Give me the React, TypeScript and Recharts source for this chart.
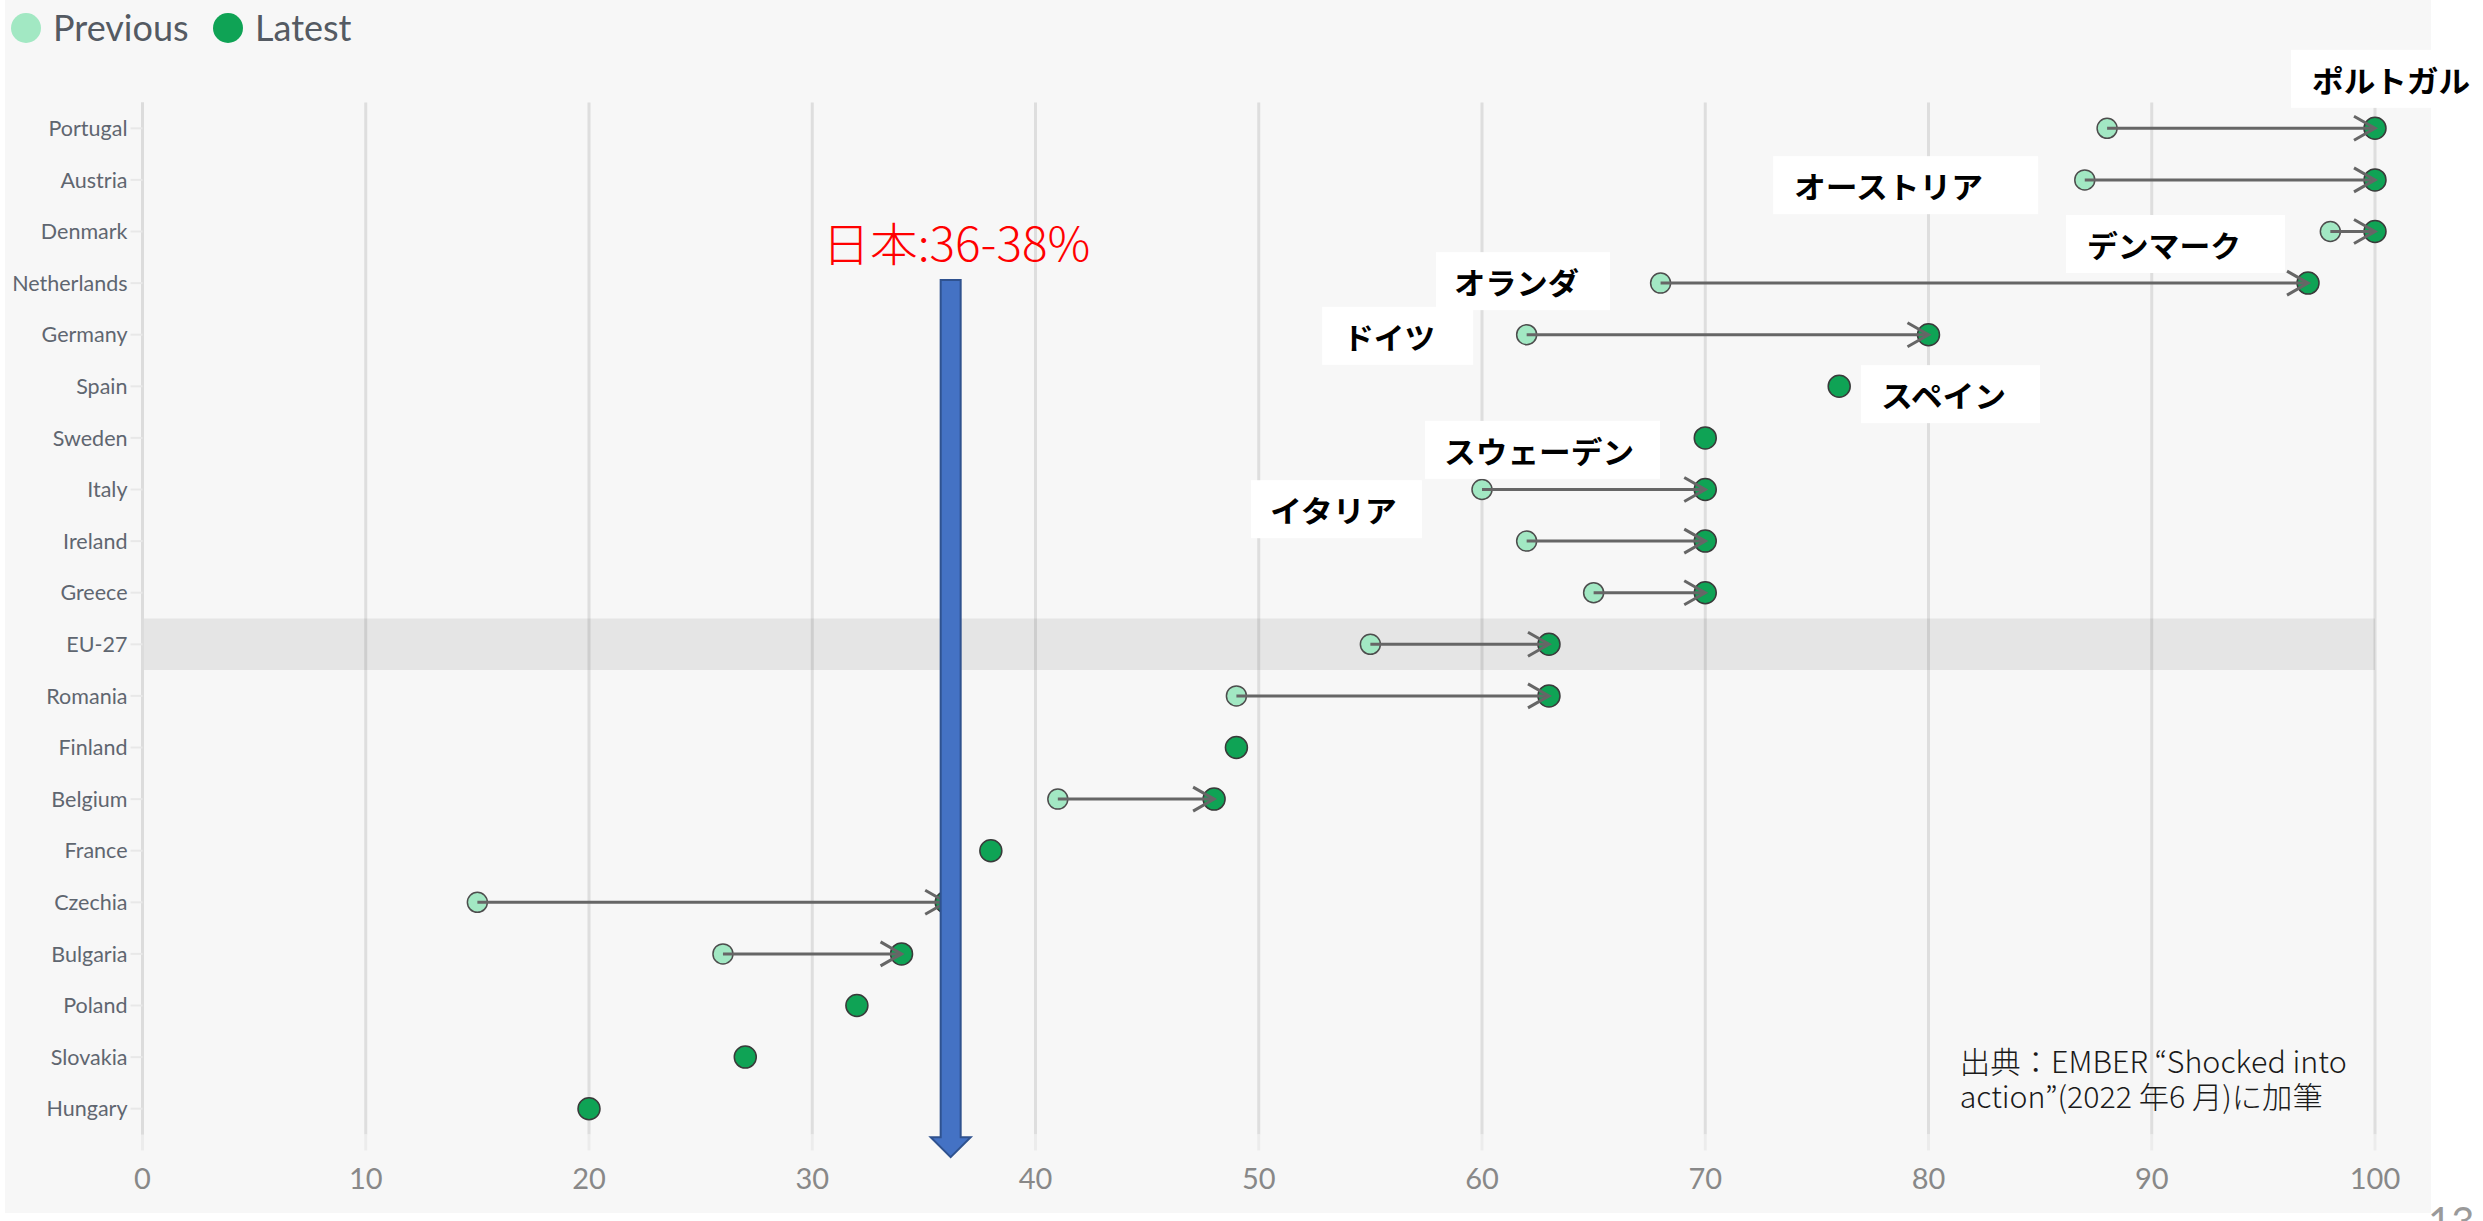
import {
  ScatterChart,
  Scatter,
  XAxis,
  YAxis,
  CartesianGrid,
  ReferenceArea,
  ReferenceLine,
  ReferenceDot,
} from 'recharts'

// 再生可能エネルギー比率（%）
const countries = [
  'Portugal', 'Austria', 'Denmark', 'Netherlands', 'Germany', 'Spain', 'Sweden',
  'Italy', 'Ireland', 'Greece', 'EU-27', 'Romania', 'Finland', 'Belgium',
  'France', 'Czechia', 'Bulgaria', 'Poland', 'Slovakia', 'Hungary',
]
const previous: (number | null)[] = [
  88, 87, 98, 68, 62, null, null, 60, 62, 65, 55, 49, null, 41, null, 15, 26, null, null, null,
]
const latest = [100, 100, 100, 97, 80, 76, 70, 70, 70, 70, 63, 63, 49, 48, 38, 36, 34, 32, 27, 20]
const xTicks = [0, 10, 20, 30, 40, 50, 60, 70, 80, 90, 100]
const yTicks = countries.map((_, i) => i)

// 注記（スライド上の吹き出し）
const jpLabels = ['ポルトガル', 'オーストリア', 'デンマーク', 'オランダ', 'ドイツ', 'スペイン', 'スウェーデン', 'イタリア']
const jpLabelX = [96.24, 73.04, 86.16, 57.94, 52.84, 76.98, 57.45, 49.65]
const jpLabelY = [-1.52, 0.54, 1.68, 2.4, 3.46, 4.59, 5.67, 6.82]
const jpBoxW = [200, 265, 219, 174, 151, 179, 235, 171]
const jpTextW = [158, 189, 154, 125, 92, 125, 190, 127]
const jpPad = [21, 21, 21, 18, 21, 20, 19, 19]

const japanText = '日本:36-38%'
const japanValue = 36.2
const sourceLines = ['出典：EMBER “Shocked into', 'action”(2022 年6 月)に加筆']

const prevPoints = previous
  .map((v, i) => (v == null ? null : { x: v, y: i }))
  .filter((p): p is { x: number; y: number } => p !== null)
const latestPoints = latest.map((v, i) => ({ x: v, y: i }))
const arrows = prevPoints.map((p) => ({ from: p.x, to: latest[p.y], y: p.y }))

const PREV_FILL = '#a2e8c3'
const LATEST_FILL = '#0fa355'
const LABEL_FONT = 'Lato, "Noto Sans", sans-serif'
const JP_FONT = '"Noto Sans CJK JP", "Noto Sans", sans-serif'

const PrevDot = (p: any) => (
  <circle cx={p.cx} cy={p.cy} r={10} fill={PREV_FILL} stroke="#4d4d4d" strokeWidth={1.5} />
)
const LatestDot = (p: any) => (
  <circle cx={p.cx} cy={p.cy} r={11} fill={LATEST_FILL} stroke="#3a3a3a" strokeWidth={1.5} />
)

function ArrowLine(props: any) {
  const { x1, y1, x2, y2 } = props
  return (
    <g>
      <line x1={x1} y1={y1} x2={x2} y2={y2} stroke="#666" strokeWidth={3} />
      <polyline
        points={`${x2 - 21},${y2 - 12} ${x2},${y2} ${x2 - 21},${y2 + 12}`}
        fill="none"
        stroke="#666"
        strokeWidth={3}
      />
    </g>
  )
}

function BlueArrow(props: any) {
  const { x1, y1, y2 } = props
  const x = x1
  const pts = [
    [x - 10, y1], [x + 10, y1], [x + 10, y2 - 20], [x + 20, y2 - 20],
    [x, y2], [x - 20, y2 - 20], [x - 10, y2 - 20],
  ]
  return (
    <polygon
      points={pts.map((p) => p.join(',')).join(' ')}
      fill="#4472c4"
      stroke="#2f528f"
      strokeWidth={2}
    />
  )
}

const jpBox = (i: number) => (p: any) => (
  <g>
    <rect x={p.cx} y={p.cy} width={jpBoxW[i]} height={58} fill="#ffffff" />
    <text
      x={p.cx + jpPad[i]}
      y={p.cy + 29}
      dominantBaseline="central"
      fontFamily={JP_FONT}
      fontWeight={700}
      fontSize={30}
      textLength={jpTextW[i]}
      lengthAdjust="spacingAndGlyphs"
      fill="#000"
    >
      {jpLabels[i]}
    </text>
  </g>
)

const JapanLabel = (p: any) => (
  <text
    x={p.cx}
    y={p.cy}
    dominantBaseline="central"
    fontFamily={JP_FONT}
    fontWeight={300}
    fontSize={46}
    textLength={268}
    lengthAdjust="spacingAndGlyphs"
    fill="#ff0000"
  >
    {japanText}
  </text>
)

const SourceNote = (p: any) => (
  <text fontFamily={JP_FONT} fontWeight={300} fontSize={30} fill="#1a1a1a">
    <tspan x={p.cx} y={p.cy} textLength={387} lengthAdjust="spacingAndGlyphs">
      {sourceLines[0]}
    </tspan>
    <tspan x={p.cx} y={p.cy + 35} textLength={363} lengthAdjust="spacingAndGlyphs">
      {sourceLines[1]}
    </tspan>
  </text>
)

export default function App() {
  return (
    <div
      style={{
        position: 'absolute',
        left: 0,
        top: 0,
        width: 2483,
        height: 1221,
        overflow: 'hidden',
        background: '#ffffff',
      }}
    >
      <div
        style={{ position: 'absolute', left: 5, top: 0, width: 2426, height: 1213, background: '#f7f7f7' }}
      />
      <svg style={{ position: 'absolute', left: 0, top: 0 }} width={420} height={60}>
        <circle cx={26} cy={28} r={15} fill={PREV_FILL} />
        <text x={53} y={41} fontFamily={LABEL_FONT} fontSize={36} fill="#545a62">
          Previous
        </text>
        <circle cx={228} cy={28} r={15} fill={LATEST_FILL} />
        <text x={255} y={41} fontFamily={LABEL_FONT} fontSize={36} fill="#545a62">
          Latest
        </text>
      </svg>
      <svg style={{ position: 'absolute', left: 0, top: 0 }} width={2483} height={1221}>
        <text x={2428} y={1236} fontFamily={LABEL_FONT} fontSize={40} fill="#9a9a9a">
          13
        </text>
      </svg>
      <div style={{ position: 'absolute', left: 0, top: 0 }}>
        <ScatterChart
          width={2483}
          height={1221}
          margin={{ top: 102.5, right: 108, bottom: 26.5, left: 0 }}
        >
          <CartesianGrid horizontal={false} stroke="#dedede" strokeWidth={3} />
          <ReferenceArea
            x1={0}
            x2={100}
            y1={9.5}
            y2={10.5}
            fill="#000"
            fillOpacity={0.07}
            stroke="none"
            ifOverflow="visible"
          />
          <XAxis
            type="number"
            dataKey="x"
            domain={[0, 100]}
            ticks={xTicks}
            interval={0}
            height={60}
            axisLine={false}
            tickSize={16}
            tickMargin={18}
            tickLine={{ stroke: '#ececec', strokeWidth: 3 }}
            tick={{ fill: '#888', fontSize: 29, fontFamily: LABEL_FONT }}
          />
          <YAxis
            type="number"
            dataKey="y"
            domain={[-0.5, 19.5]}
            reversed
            ticks={yTicks}
            interval={0}
            width={142.5}
            tickFormatter={(i: number) => countries[i] ?? ''}
            axisLine={{ stroke: '#dcdcdc', strokeWidth: 3 }}
            tickSize={12}
            tickMargin={3}
            tickLine={{ stroke: '#e8e8e8', strokeWidth: 2 }}
            tick={{ fill: '#5f6670', fontSize: 21.5, fontFamily: LABEL_FONT }}
          />
          <Scatter data={prevPoints} shape={PrevDot} isAnimationActive={false} />
          <Scatter data={latestPoints} shape={LatestDot} isAnimationActive={false} />
          {arrows.map((a) => (
            <ReferenceLine
              key={`arrow-${a.y}`}
              segment={[
                { x: a.from, y: a.y },
                { x: a.to, y: a.y },
              ]}
              shape={ArrowLine}
              ifOverflow="visible"
              zIndex={650}
            />
          ))}
          {jpLabels.map((_, i) => (
            <ReferenceDot
              key={`jp-${i}`}
              x={jpLabelX[i]}
              y={jpLabelY[i]}
              r={1}
              shape={jpBox(i)}
              ifOverflow="visible"
              zIndex={700}
            />
          ))}
          <ReferenceDot x={30.45} y={2.18} r={1} shape={JapanLabel} ifOverflow="visible" zIndex={700} />
          <ReferenceDot x={81.4} y={18.31} r={1} shape={SourceNote} ifOverflow="visible" zIndex={700} />
          <ReferenceLine
            segment={[
              { x: japanValue, y: 2.94 },
              { x: japanValue, y: 19.94 },
            ]}
            shape={BlueArrow}
            ifOverflow="visible"
            zIndex={800}
          />
        </ScatterChart>
      </div>
    </div>
  )
}
